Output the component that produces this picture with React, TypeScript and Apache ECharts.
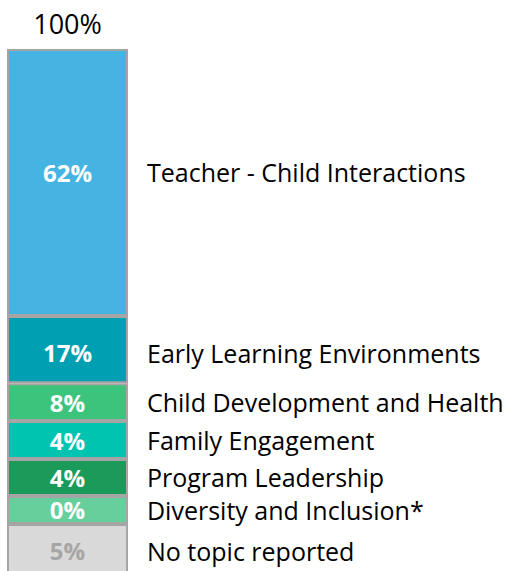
import React, { useEffect, useRef } from "react";
import * as echarts from "echarts";

// Categories, bottom to top of the stack
const categories = [
  "No topic reported",
  "Diversity and Inclusion*",
  "Program Leadership",
  "Family Engagement",
  "Child Development and Health",
  "Early Learning Environments",
  "Teacher - Child Interactions",
];
// Percent shown on each segment
const shares = [5, 0, 4, 4, 8, 17, 62];
// Drawn segment heights (same order)
const drawnHeights = [12.5, 6.5, 8.6, 8.8, 8.8, 15.6, 62];
const colors = ["#d9d9d9", "#66cf9b", "#1b9a5a", "#00c3b0", "#3cc47c", "#00a0b2", "#45b4e2"];
const pctColors = ["#a6a6a6", "#ffffff", "#ffffff", "#ffffff", "#ffffff", "#ffffff", "#ffffff"];
const labelOffsets = [0, 0, 0, 0, 0, 3, -10];

const FONT = "'Open Sans', sans-serif";

export default function App() {
  const ref = useRef<HTMLDivElement>(null);
  useEffect(() => {
    if (!ref.current) return;
    const chart = echarts.init(ref.current, undefined, { renderer: "svg" });
    const total = shares.reduce((a, b) => a + b, 0);
    const stackMax = drawnHeights.reduce((a, b) => a + b, 0);
    chart.setOption({
      animation: false,
      grid: { left: 7, width: 121, top: 49, height: 528.8 },
      xAxis: {
        type: "category",
        position: "top",
        data: [`${total}%`],
        axisLine: { show: false },
        axisTick: { show: false },
        axisLabel: { color: "#000", fontSize: 27, fontFamily: FONT, margin: 12 },
      },
      yAxis: { type: "value", min: 0, max: stackMax, show: false, splitLine: { show: false } },
      series: categories.map((name, i) => ({
        type: "bar",
        name,
        stack: "total",
        barWidth: "100%",
        data: [drawnHeights[i]],
        itemStyle: { color: colors[i], borderColor: "#a5a5a5", borderWidth: 2 },
        label: {
          show: true,
          position: "insideLeft",
          distance: 0,
          offset: [0, labelOffsets[i]],
          formatter: () => `{a|${shares[i]}%}{b|${name}}`,
          rich: {
            a: {
              width: 121,
              align: "center",
              color: pctColors[i],
              fontWeight: "bold",
              fontSize: 24,
              fontFamily: FONT,
            },
            b: {
              color: "#000",
              fontSize: 25,
              fontFamily: FONT,
              padding: [0, 0, 0, 19],
            },
          },
        },
      })),
    });
    return () => chart.dispose();
  }, []);
  return (
    <div style={{ position: "absolute", left: 0, top: 0, width: 511, height: 571, overflow: "hidden" }}>
      <div ref={ref} style={{ width: 511, height: 600 }} />
    </div>
  );
}
